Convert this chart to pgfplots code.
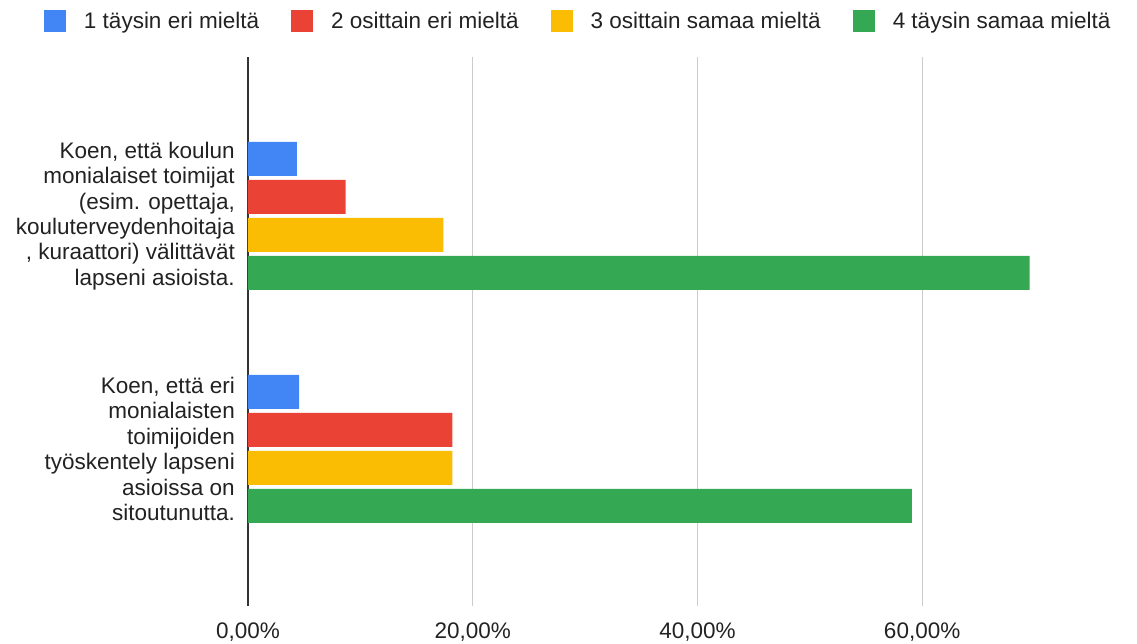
\documentclass[border=0pt]{standalone}
\usepackage{pgfplots}
\pgfplotsset{compat=1.18}
\usepackage{fontspec}
\setmainfont{Liberation Sans}
\definecolor{cblue}{HTML}{4285F4}
\definecolor{cred}{HTML}{EA4335}
\definecolor{cyellow}{HTML}{FBBC04}
\definecolor{cgreen}{HTML}{34A853}
\definecolor{ctext}{HTML}{222222}
\definecolor{cgrid}{HTML}{CCCCCC}
\definecolor{caxis}{HTML}{333333}
\newcommand{\chartfont}{\fontsize{22.5}{25.4}\selectfont}
\begin{document}
\begin{tikzpicture}
\begin{axis}[
  scale only axis,
  width=882pt, height=549pt,
  xmin=0, xmax=78.5,
  ymin=-0.674, ymax=1.682,
  enlargelimits=false,
  xbar, bar width=34pt,
  separate axis lines,
  axis lines*=left,
  x axis line style={draw=none},
  y axis line style={draw=caxis, line width=1.5pt},
  major tick length=0pt,
  xmajorgrids,
  grid style={cgrid, line width=1.2pt},
  xtick={0,20,40,60},
  xticklabels={{0,00\%},{20,00\%},{40,00\%},{60,00\%}},
  xticklabel style={font=\chartfont, text=ctext, anchor=north, inner sep=0pt, yshift=-17pt},
  ytick={0,1},
  yticklabels={
    {Koen, että eri\\monialaisten\\toimijoiden\\työskentely lapseni\\asioissa on\\sitoutunutta.},
    {Koen, että koulun\\monialaiset toimijat\\(esim. opettaja,\\kouluterveydenhoitaja\\, kuraattori) välittävät\\lapseni asioista.}
  },
  yticklabel style={font=\chartfont, text=ctext, align=right, anchor=east, inner sep=0pt, xshift=-13pt},
  legend columns=-1,
  legend image code/.code={\fill[#1] (0pt,-11pt) rectangle (22pt,11pt);},
  legend style={
    at={(rel axis cs:0,1)}, anchor=west, xshift=-204pt, yshift=36pt,
    draw=none, fill=none, inner sep=0pt, outer sep=0pt,
    font=\chartfont, text=ctext,
    nodes={inner sep=0pt},
    /tikz/every odd column/.append style={column sep=18pt},
    /tikz/every even column/.append style={column sep=32pt},
  },
]
\addplot[draw=none, fill=cblue, bar shift=57pt] coordinates {(4.55,0) (4.35,1)};
\addlegendentry{1 täysin eri mieltä}
\addplot[draw=none, fill=cred, bar shift=19pt] coordinates {(18.18,0) (8.70,1)};
\addlegendentry{2 osittain eri mieltä}
\addplot[draw=none, fill=cyellow, bar shift=-19pt] coordinates {(18.18,0) (17.39,1)};
\addlegendentry{3 osittain samaa mieltä}
\addplot[draw=none, fill=cgreen, bar shift=-57pt] coordinates {(59.09,0) (69.57,1)};
\addlegendentry{4 täysin samaa mieltä}
\end{axis}
\pgfresetboundingbox
\useasboundingbox (-248pt,-37pt) rectangle (889pt,606pt);
\end{tikzpicture}
\end{document}
